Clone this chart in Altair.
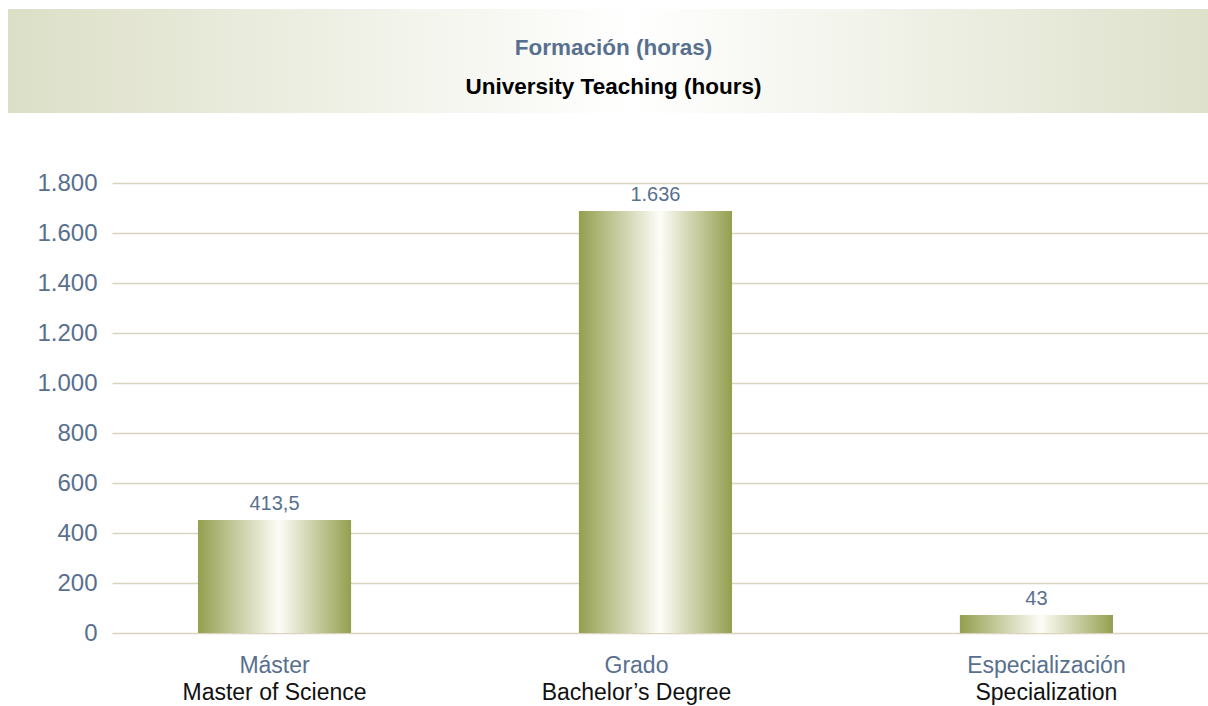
import altair as alt
import pandas as pd

categories_es = ["Máster", "Grado", "Especialización"]
categories_en = ["Master of Science", "Bachelor’s Degree", "Specialization"]
bar_heights = [452, 1688, 72]
value_labels = ["413,5", "1.636", "43"]
y_ticks = [0, 200, 400, 600, 800, 1000, 1200, 1400, 1600, 1800]
title_es = "Formación (horas)"
title_en = "University Teaching (hours)"

FONT = "Liberation Sans"
SLATE = "#58708e"

df = pd.DataFrame({"es": categories_es, "en": categories_en,
                   "v": bar_heights, "lab": value_labels})
one = pd.DataFrame({"t1": [title_es], "t2": [title_en]})

W, H = 1096, 450

bar_grad = alt.LinearGradient(
    gradient="linear",
    stops=[alt.GradientStop(offset=0, color="#949f4f"),
           alt.GradientStop(offset=0.53, color="#fdfdf7"),
           alt.GradientStop(offset=1, color="#949f4f")],
    x1=0, x2=1, y1=0, y2=0)

head_grad = alt.LinearGradient(
    gradient="linear",
    stops=[alt.GradientStop(offset=0, color="#dcdfc7"),
           alt.GradientStop(offset=0.52, color="#ffffff"),
           alt.GradientStop(offset=1, color="#dee1cb")],
    x1=0, x2=1, y1=0, y2=0)

xenc = alt.X("es:N", sort=categories_es, axis=None,
             scale=alt.Scale(paddingInner=0.598, paddingOuter=0.2375, align=0.475))
yenc = alt.Y("v:Q", scale=alt.Scale(domain=[0, 1800], nice=False),
             axis=alt.Axis(values=y_ticks, title=None,
                           labelExpr="replace(format(datum.value, ','), ',', '.')"))

header = alt.Chart(one).mark_rect(color=head_grad).encode(
    x=alt.value(-104), x2=alt.value(1096), y=alt.value(-174), y2=alt.value(-70))
head1 = alt.Chart(one).mark_text(font=FONT, fontSize=22.5, fontWeight="bold",
                                 color=SLATE, baseline="middle").encode(
    x=alt.value(501.5), y=alt.value(-135), text="t1:N")
head2 = alt.Chart(one).mark_text(font=FONT, fontSize=22.5, fontWeight="bold",
                                 color="#000000", baseline="middle").encode(
    x=alt.value(501.5), y=alt.value(-96), text="t2:N")

base = alt.Chart(df)
bars = base.mark_bar(color=bar_grad).encode(x=xenc, y=yenc)
vals = base.mark_text(font=FONT, fontSize=20, color=SLATE, baseline="alphabetic",
                      dy=-10).encode(x=xenc, y="v:Q", text="lab:N")

label_layers = []
for cat, shift in zip(categories_es, [0, -19, 10]):
    sub = base.transform_filter(alt.datum.es == cat)
    label_layers.append(sub.mark_text(font=FONT, fontSize=23, color=SLATE,
                                      baseline="middle", dx=shift).encode(
        x=xenc, y=alt.value(483), text="es:N"))
    label_layers.append(sub.mark_text(font=FONT, fontSize=23, color="#111111",
                                      baseline="middle", dx=shift).encode(
        x=xenc, y=alt.value(510), text="en:N"))

chart = alt.layer(header, head1, head2, bars, vals, *label_layers).properties(
    width=W, height=H,
    autosize=alt.AutoSizeParams(type="none"),
    padding={"left": 112, "top": 183, "right": 0, "bottom": 73},
    background="#ffffff",
).configure_view(stroke=None).configure_axisY(
    grid=True, gridColor="#d7d4bf", gridWidth=1.5, domain=False, ticks=False,
    tickSize=0, labelFont=FONT, labelFontSize=24, labelColor=SLATE, labelPadding=15,
)

chart.save("out.html", embed_options={"renderer": "svg", "actions": False})
